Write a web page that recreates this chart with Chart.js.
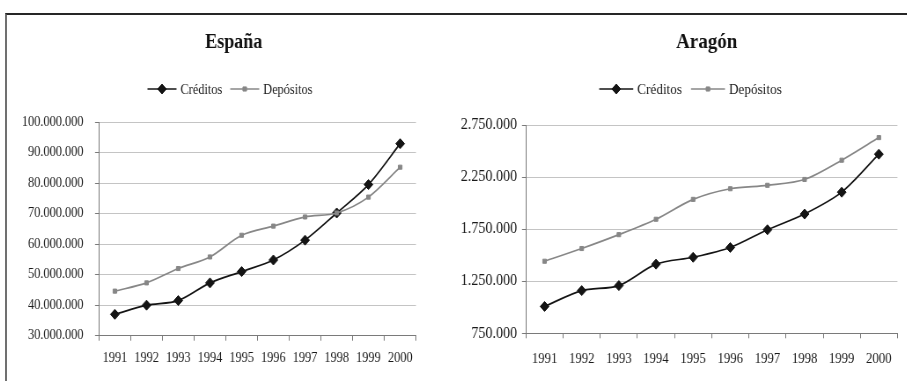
<!DOCTYPE html>
<html>
<head>
<meta charset="utf-8">
<script src="https://cdn.jsdelivr.net/npm/chart.js@4.4.1/dist/chart.umd.min.js"></script>
<style>
  html, body { margin: 0; padding: 0; background: #fff; width: 907px; height: 381px; overflow: hidden; }
  #frame { position: absolute; left: 5px; top: 13px; width: 902px; height: 368px;
           border-top: 2px solid #262626; border-left: 2px solid #707070; box-sizing: border-box; }
  .wrap { position: absolute; top: 16px; transform-origin: 0 0; }
  #w1 { left: 8px; }
  #w2 { left: 450px; }
  canvas { display: block; }
</style>
</head>
<body>
<div id="frame"></div>
<div class="wrap" id="w1"><canvas id="c1"></canvas></div>
<div class="wrap" id="w2"><canvas id="c2"></canvas></div>
<script>
// ---- data ----
const years = ['1991','1992','1993','1994','1995','1996','1997','1998','1999','2000'];
const seriesNames = ['Créditos', 'Depósitos'];

const espanaCreditos  = [37000000, 40000000, 41500000, 47300000, 51000000, 54800000, 61300000, 70200000, 79500000, 92900000];
const espanaDepositos = [44600000, 47300000, 52000000, 55800000, 62900000, 65900000, 68900000, 70200000, 75400000, 85200000];

const aragonCreditos  = [1008000, 1160000, 1208000, 1414000, 1480000, 1574000, 1744000, 1895000, 2105000, 2470000];
const aragonDepositos = [1442000, 1564000, 1697000, 1845000, 2036000, 2138000, 2171000, 2227000, 2412000, 2629000];

const espanaYTicks = [30000000, 40000000, 50000000, 60000000, 70000000, 80000000, 90000000, 100000000];
const aragonYTicks = [750000, 1250000, 1750000, 2250000, 2750000];

// ---- helpers ----
const S = 0.88;             // horizontal squeeze of the original figure
const H = v => v / S;       // horizontal length in unsqueezed canvas units
const FONT = "'Liberation Serif', 'Times New Roman', serif";
const fmt = v => Math.round(v).toString().replace(/\B(?=(\d{3})+(?!\d))/g, '.');

const panelTitle = {
  id: 'panelTitle',
  afterDraw(chart, args, opts) {
    const ctx = chart.ctx;
    ctx.save();
    ctx.font = 'bold ' + opts.size + 'px ' + FONT;
    ctx.fillStyle = '#111';
    ctx.textAlign = 'center';
    ctx.textBaseline = 'alphabetic';
    ctx.fillText(opts.text, opts.cx, opts.baseline);
    ctx.restore();
  }
};

const lineLegend = {
  id: 'lineLegend',
  afterDraw(chart, args, opts) {
    const ctx = chart.ctx;
    ctx.save();
    ctx.font = opts.fontSize + 'px ' + FONT;
    const items = chart.data.datasets.map(ds => ({ ds, w: ctx.measureText(ds.label).width }));
    let total = 0;
    items.forEach((it, i) => { total += opts.lineLength + opts.textGap + it.w + (i ? opts.itemGap : 0); });
    let x = opts.cx - total / 2;
    const y = opts.cy;
    items.forEach((it, i) => {
      if (i) x += opts.itemGap;
      const ds = it.ds;
      ctx.strokeStyle = ds.borderColor;
      ctx.lineWidth = ds.borderWidth;
      ctx.beginPath(); ctx.moveTo(x, y); ctx.lineTo(x + opts.lineLength, y); ctx.stroke();
      ctx.fillStyle = ds.pointBackgroundColor;
      ctx.strokeStyle = ds.pointBorderColor;
      ctx.lineWidth = ds.pointBorderWidth;
      Chart.helpers.drawPoint(ctx, { pointStyle: ds.pointStyle, radius: ds.pointRadius, borderWidth: ds.pointBorderWidth, rotation: 0 }, x + opts.lineLength / 2, y);
      x += opts.lineLength + opts.textGap;
      ctx.fillStyle = '#1a1a1a';
      ctx.textBaseline = 'middle';
      ctx.textAlign = 'left';
      ctx.fillText(ds.label, x, y + 1);
      x += it.w;
    });
    ctx.restore();
  }
};

function makeDatasets(cred, dep) {
  return [
    { label: seriesNames[0], data: cred, borderColor: '#141414', backgroundColor: '#141414',
      pointBackgroundColor: '#141414', pointBorderColor: '#141414', pointBorderWidth: 1,
      borderWidth: 1.7, pointStyle: 'rectRot', pointRadius: 5, tension: 0.3, order: 1 },
    { label: seriesNames[1], data: dep, borderColor: '#878787', backgroundColor: '#878787',
      pointBackgroundColor: '#878787', pointBorderColor: '#878787', pointBorderWidth: 1,
      borderWidth: 1.7, pointStyle: 'rect', pointRadius: 2.9, tension: 0.3, order: 0 }
  ];
}

function makeChart(id, wrapId, cfg) {
  const canvas = document.getElementById(id);
  canvas.width = Math.round(H(cfg.width));
  canvas.height = cfg.height;
  canvas.style.width = canvas.width + 'px';
  canvas.style.height = cfg.height + 'px';
  document.getElementById(wrapId).style.transform = 'scaleX(' + S + ')';
  return new Chart(canvas, {
    type: 'line',
    data: { labels: years, datasets: makeDatasets(cfg.cred, cfg.dep) },
    options: {
      responsive: false, animation: false, devicePixelRatio: 1,
      layout: { padding: { left: 0, right: H(cfg.padRight), top: cfg.padTop, bottom: 0 } },
      plugins: {
        legend: { display: false },
        tooltip: { enabled: false },
        title: { display: false },
        panelTitle: { text: cfg.title, size: cfg.titleSize, cx: H(cfg.titleCx), baseline: cfg.titleBaseline },
        lineLegend: { cx: H(cfg.legendCx), cy: cfg.legendCy, fontSize: cfg.legendFont,
                      lineLength: H(cfg.legendLine), textGap: H(4), itemGap: H(cfg.legendGap) }
      },
      scales: {
        x: {
          offset: true,
          grid: { display: true, drawOnChartArea: false, drawTicks: true, tickLength: 5, tickColor: '#7a7a7a', offset: true },
          border: { display: true, color: '#7a7a7a', width: 1 },
          ticks: { color: '#1a1a1a', font: { family: FONT, size: cfg.xFont }, padding: cfg.xPad, maxRotation: 0, autoSkip: false },
          afterFit: s => { s.height = cfg.xHeight; }
        },
        y: {
          min: cfg.yTicks[0], max: cfg.yTicks[cfg.yTicks.length - 1],
          afterBuildTicks: s => { s.ticks = cfg.yTicks.map(v => ({ value: v })); },
          grid: { color: '#c4c4c4', lineWidth: 1, drawTicks: true, tickLength: H(4), tickColor: '#7a7a7a' },
          border: { display: true, color: '#7a7a7a', width: 1 },
          ticks: { color: '#1a1a1a', font: { family: FONT, size: cfg.yFont }, padding: H(cfg.yPad), callback: v => fmt(v) },
          afterFit: s => { s.width = H(cfg.yWidth); }
        }
      }
    },
    plugins: [panelTitle, lineLegend]
  });
}

makeChart('c1', 'w1', {
  width: 440, height: 365,
  cred: espanaCreditos, dep: espanaDepositos,
  title: 'España', titleSize: 20.5, titleCx: 225.7, titleBaseline: 31.5,
  padTop: 106, padRight: 32, yWidth: 91,
  xHeight: 45.3, xPad: 9, xFont: 14, yPad: 11.5, yFont: 14, yTicks: espanaYTicks,
  legendCx: 222, legendCy: 73, legendFont: 14, legendLine: 29, legendGap: 8
});

makeChart('c2', 'w2', {
  width: 457, height: 365,
  cred: aragonCreditos, dep: aragonDepositos,
  title: 'Aragón', titleSize: 21.5, titleCx: 256.7, titleBaseline: 31.5,
  padTop: 109, padRight: 9.3, yWidth: 76,
  xHeight: 47.7, xPad: 12, xFont: 14.5, yPad: 5, yFont: 16, yTicks: aragonYTicks,
  legendCx: 240.5, legendCy: 73, legendFont: 15, legendLine: 34, legendGap: 9
});
</script>
</body>
</html>
